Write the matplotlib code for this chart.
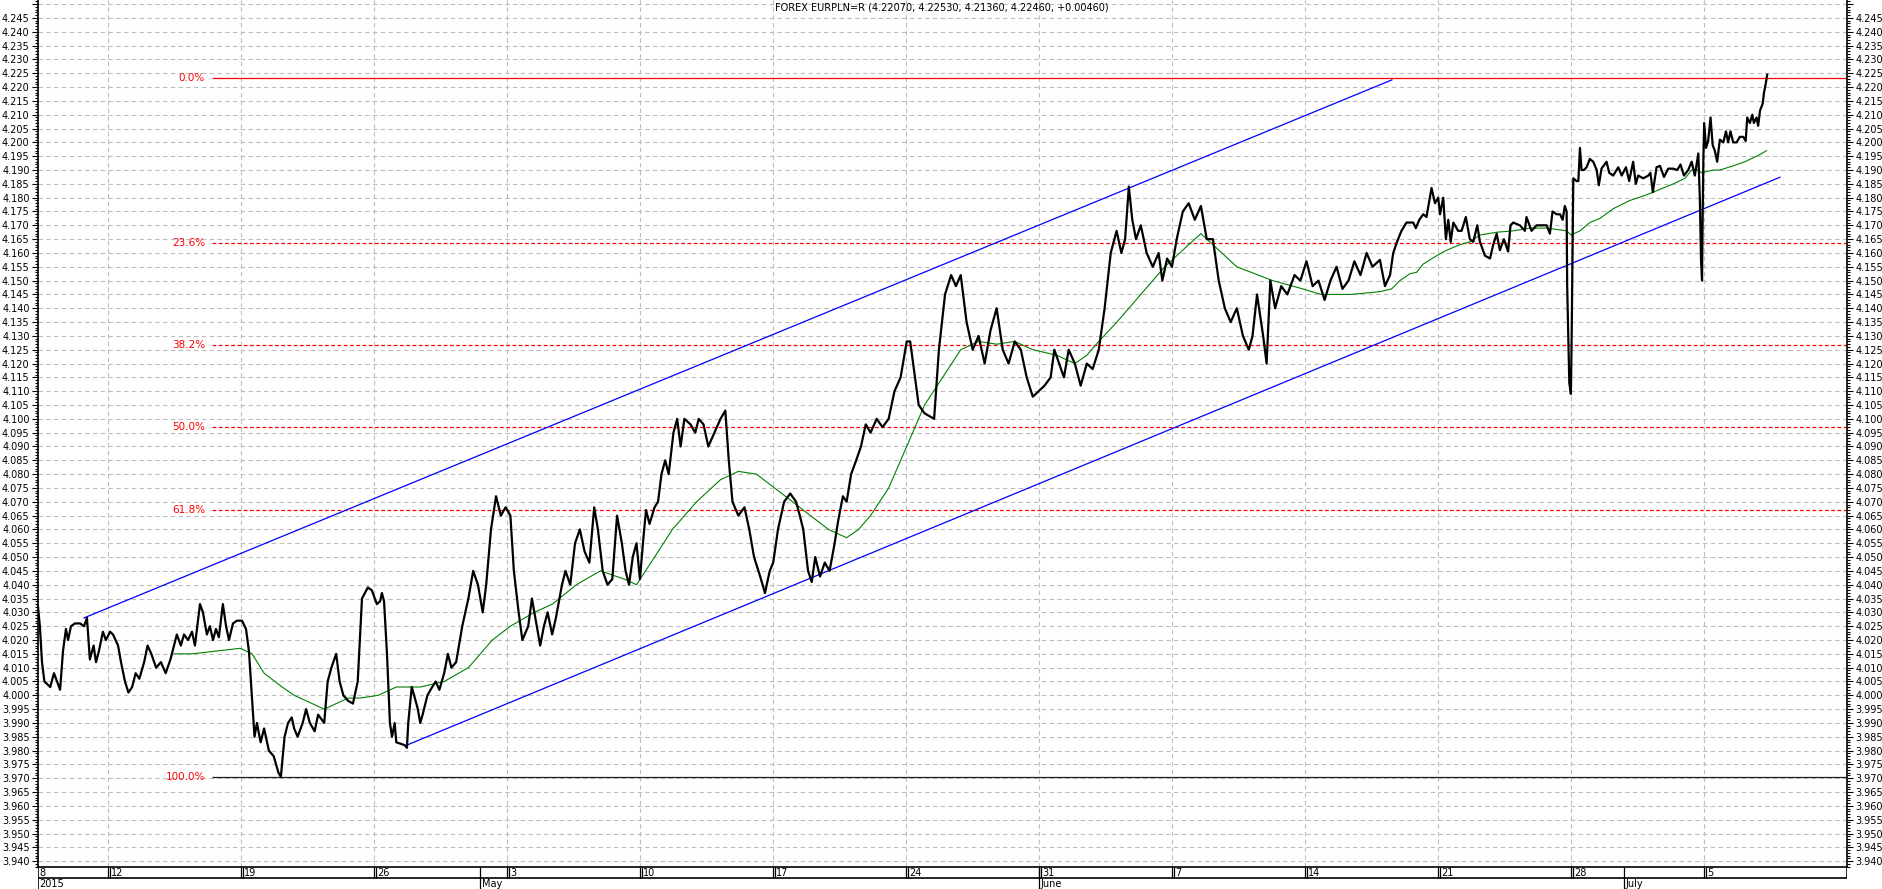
import matplotlib
matplotlib.use("Agg")
import matplotlib.pyplot as plt
import numpy as np
from matplotlib.ticker import MultipleLocator, FixedLocator, FixedFormatter

# time axis in trading days, 0 = Monday 13 Apr 2015
price_t = [-2.63, -2.56, -2.48, -2.39, -2.17, -2.03, -1.80, -1.69, -1.58, -1.50, -1.39, -1.24,
           -1.05, -0.90, -0.79, -0.68, -0.54, -0.45, -0.34, -0.19, -0.08, 0.08, 0.19, 0.38,
           0.49, 0.64, 0.77, 0.91, 1.04, 1.18, 1.36, 1.49, 1.63, 1.81, 1.99, 2.17, 2.35,
           2.59, 2.74, 2.86, 3.01, 3.16, 3.27, 3.46, 3.57, 3.72, 3.83, 3.95, 4.06, 4.17,
           4.32, 4.44, 4.55, 4.70, 4.85, 5.04, 5.19, 5.30, 5.51, 5.60, 5.74, 5.87, 6.05,
           6.23, 6.41, 6.50, 6.64, 6.77, 6.91, 7.00, 7.13, 7.32, 7.45, 7.59, 7.77, 7.90,
           8.13, 8.26, 8.40, 8.58, 8.71, 8.85, 9.03, 9.21, 9.39, 9.55, 9.77, 9.92, 10.11,
           10.23, 10.30, 10.38, 10.49, 10.60, 10.68, 10.78, 10.84, 11.15, 11.24, 11.29,
           11.42, 11.51, 11.65, 11.74, 11.83, 12.01, 12.19, 12.32, 12.46, 12.64, 12.78,
           12.91, 13.09, 13.32, 13.55, 13.73, 13.91, 14.09, 14.22, 14.40, 14.59, 14.77,
           14.95, 15.13, 15.26, 15.44, 15.58, 15.80, 15.94, 16.12, 16.25, 16.39, 16.53,
           16.70, 16.84, 17.07, 17.20, 17.38, 17.56, 17.74, 17.92, 18.10, 18.28, 18.42,
           18.60, 18.78, 18.96, 19.14, 19.32, 19.46, 19.59, 19.73, 19.87, 20.00, 20.14,
           20.23, 20.36, 20.55, 20.68, 20.81, 20.95, 21.08, 21.26, 21.40, 21.53, 21.67,
           21.90, 22.08, 22.21, 22.39, 22.57, 22.80, 23.03, 23.21, 23.34, 23.48, 23.70,
           23.93, 24.11, 24.29, 24.52, 24.70, 24.88, 25.01, 25.19, 25.42, 25.65, 25.87,
           26.01, 26.14, 26.32, 26.46, 26.59, 26.77, 26.95, 27.13, 27.32, 27.45, 27.63,
           27.77, 27.94, 28.13, 28.31, 28.49, 28.67, 28.90, 29.12, 29.35, 29.57, 29.80,
           30.03, 30.16, 30.34, 30.48, 30.70, 31.06, 31.24, 31.47, 31.70, 31.88, 32.06,
           32.28, 32.51, 32.73, 32.96, 33.18, 33.41, 33.64, 33.86, 34.09, 34.32, 34.54,
           34.77, 34.99, 35.21, 35.44, 35.58, 35.76, 35.94, 36.12, 36.35, 36.57, 36.80,
           37.02, 37.25, 37.47, 37.70, 37.92, 38.10, 38.24, 38.38, 38.51, 38.65, 38.83,
           39.05, 39.28, 39.50, 39.64, 39.82, 40.00, 40.18, 40.41, 40.63, 40.86, 41.09,
           41.31, 41.54, 41.76, 41.99, 42.21, 42.44, 42.67, 42.89, 43.03, 43.20, 43.43,
           43.56, 43.70, 43.88, 44.11, 44.34, 44.61, 44.83, 45.06, 45.29, 45.51, 45.74,
           45.96, 46.19, 46.41, 46.64, 46.86, 47.09, 47.32, 47.54, 47.82, 48.01, 48.20,
           48.32, 48.45, 48.63, 48.82, 49.07, 49.17, 49.30, 49.45, 49.57, 49.76, 49.89,
           50.01, 50.08, 50.20, 50.30, 50.39, 50.48, 50.58, 50.76, 50.89, 51.05, 51.20,
           51.33, 51.48, 51.58, 51.77, 51.96, 52.08, 52.21, 52.33, 52.48, 52.64, 52.73,
           52.83, 53.08, 53.27, 53.33, 53.52, 53.71, 53.96, 54.09, 54.21, 54.31, 54.46,
           54.59, 54.69, 54.77, 54.84, 54.86, 54.94, 55.00, 55.03, 55.09, 55.21, 55.28,
           55.34, 55.40, 55.49, 55.59, 55.71, 55.84, 55.97, 56.05, 56.15, 56.34, 56.44,
           56.59, 56.78, 56.91, 57.07, 57.19, 57.34, 57.44, 57.53, 57.72, 57.91, 57.99,
           58.08, 58.22, 58.35, 58.50, 58.66, 58.85, 59.00, 59.12, 59.25, 59.41, 59.54,
           59.66, 59.79, 59.85, 59.89, 59.93, 59.95, 59.98, 60.01, 60.08, 60.16, 60.25,
           60.33, 60.41, 60.50, 60.60, 60.73, 60.83, 60.91, 61.00, 61.10, 61.23, 61.35,
           61.48, 61.57, 61.63, 61.73, 61.82, 61.88, 61.98, 62.04, 62.11, 62.21, 62.26,
           62.33, 62.38]
price = [4.032, 4.025, 4.012, 4.005, 4.003, 4.008, 4.002, 4.016, 4.024, 4.020, 4.025, 4.026,
         4.026, 4.025, 4.028, 4.013, 4.018, 4.012, 4.016, 4.023, 4.020, 4.023, 4.022, 4.018,
         4.012, 4.005, 4.001, 4.003, 4.008, 4.006, 4.012, 4.018, 4.015, 4.010, 4.012, 4.008,
         4.013, 4.022, 4.018, 4.022, 4.020, 4.023, 4.018, 4.033, 4.030, 4.022, 4.025, 4.020,
         4.024, 4.021, 4.033, 4.025, 4.020, 4.026, 4.027, 4.027, 4.024, 4.016, 3.985, 3.990,
         3.983, 3.988, 3.980, 3.978, 3.972, 3.9705, 3.985, 3.990, 3.992, 3.988, 3.985, 3.990,
         3.995, 3.990, 3.987, 3.993, 3.990, 4.005, 4.010, 4.015, 4.005, 4.000, 3.998, 3.997,
         4.005, 4.035, 4.039, 4.038, 4.033, 4.034, 4.037, 4.034, 4.015, 3.990, 3.985, 3.990,
         3.983, 3.982, 3.981, 3.990, 4.003, 4.000, 3.995, 3.990, 3.993, 4.000, 4.003, 4.005,
         4.002, 4.008, 4.015, 4.010, 4.012, 4.025, 4.035, 4.045, 4.040, 4.030, 4.040, 4.060,
         4.072, 4.065, 4.068, 4.065, 4.045, 4.030, 4.020, 4.025, 4.035, 4.025, 4.018, 4.025,
         4.030, 4.022, 4.028, 4.040, 4.045, 4.040, 4.055, 4.060, 4.052, 4.048, 4.068, 4.060,
         4.045, 4.040, 4.042, 4.065, 4.055, 4.045, 4.040, 4.050, 4.055, 4.042, 4.058, 4.067,
         4.062, 4.068, 4.070, 4.080, 4.085, 4.080, 4.095, 4.100, 4.090, 4.100, 4.098, 4.095,
         4.100, 4.098, 4.090, 4.095, 4.100, 4.103, 4.085, 4.070, 4.065, 4.068, 4.060, 4.050,
         4.043, 4.037, 4.045, 4.048, 4.060, 4.070, 4.073, 4.070, 4.065, 4.060, 4.045, 4.041,
         4.050, 4.043, 4.048, 4.045, 4.055, 4.063, 4.072, 4.070, 4.080, 4.085, 4.090, 4.098,
         4.095, 4.100, 4.097, 4.100, 4.110, 4.115, 4.128, 4.128, 4.115, 4.105, 4.102, 4.100,
         4.125, 4.145, 4.152, 4.148, 4.152, 4.135, 4.125, 4.130, 4.120, 4.132, 4.140, 4.125,
         4.120, 4.128, 4.125, 4.115, 4.108, 4.110, 4.112, 4.115, 4.125, 4.120, 4.115, 4.125,
         4.120, 4.112, 4.120, 4.118, 4.125, 4.140, 4.160, 4.168, 4.160, 4.165, 4.184, 4.172,
         4.165, 4.170, 4.160, 4.155, 4.160, 4.150, 4.158, 4.155, 4.165, 4.175, 4.178, 4.172,
         4.177, 4.165, 4.165, 4.150, 4.140, 4.135, 4.140, 4.130, 4.125, 4.130, 4.145, 4.130,
         4.120, 4.150, 4.140, 4.148, 4.145, 4.152, 4.150, 4.157, 4.148, 4.150, 4.143, 4.150,
         4.155, 4.147, 4.150, 4.157, 4.152, 4.160, 4.155, 4.1575, 4.148, 4.152, 4.160,
         4.1637, 4.168, 4.171, 4.171, 4.169, 4.172, 4.174, 4.173, 4.1835, 4.178, 4.180,
         4.174, 4.180, 4.165, 4.172, 4.164, 4.171, 4.168, 4.168, 4.173, 4.165, 4.164, 4.170,
         4.164, 4.159, 4.158, 4.163, 4.167, 4.161, 4.165, 4.1605, 4.170, 4.171, 4.170,
         4.168, 4.173, 4.168, 4.170, 4.170, 4.170, 4.167, 4.175, 4.174, 4.174, 4.172, 4.177,
         4.175, 4.148, 4.113, 4.109, 4.131, 4.187, 4.186, 4.186, 4.198, 4.190, 4.190, 4.191,
         4.194, 4.193, 4.190, 4.1845, 4.1905, 4.193, 4.189, 4.188, 4.191, 4.188, 4.191,
         4.186, 4.193, 4.185, 4.188, 4.187, 4.188, 4.189, 4.182, 4.191, 4.1915, 4.1875,
         4.1905, 4.1905, 4.190, 4.192, 4.188, 4.190, 4.193, 4.188, 4.196, 4.179, 4.158,
         4.150, 4.170, 4.194, 4.207, 4.198, 4.2005, 4.209, 4.199, 4.197, 4.193, 4.201, 4.200,
         4.204, 4.200, 4.204, 4.200, 4.200, 4.202, 4.202, 4.2005, 4.209, 4.207, 4.210,
         4.207, 4.209, 4.206, 4.2115, 4.214, 4.218, 4.2215, 4.2245]

ma_t = [2.49, 3.16, 4.07, 4.97, 5.42, 5.87, 6.55, 7.00, 7.68, 8.13, 8.58, 9.03, 9.48, 10.16,
        10.84, 11.74, 12.64, 13.55, 14.45, 15.13, 16.03, 16.71, 17.61, 18.51, 19.42, 19.87,
        20.55, 21.22, 22.13, 23.03, 23.70, 24.38, 25.06, 25.74, 26.41, 27.09, 27.77, 28.22,
        28.67, 29.35, 30.03, 30.70, 31.38, 32.06, 32.73, 33.41, 34.09, 34.77, 35.67, 36.35,
        36.80, 37.25, 37.93, 38.83, 39.73, 40.63, 41.09, 41.54, 42.44, 43.79, 44.92, 45.60,
        46.73, 47.82, 48.26, 48.57, 48.95, 49.20, 49.45, 49.95, 50.33, 50.83, 51.20, 51.58,
        52.21, 52.83, 53.46, 54.09, 54.84, 55.00, 55.34, 55.71, 56.09, 56.59, 57.22, 57.84,
        58.47, 58.85, 59.29, 59.54, 59.79, 59.91, 60.35, 60.60, 61.10, 61.54, 61.98, 62.36]
ma = [4.015, 4.015, 4.016, 4.017, 4.015, 4.008, 4.003, 4.000, 3.997, 3.995, 3.997, 3.999,
      3.999, 4.000, 4.003, 4.003, 4.005, 4.010, 4.020, 4.025, 4.030, 4.033, 4.040, 4.045,
      4.042, 4.040, 4.050, 4.060, 4.070, 4.078, 4.081, 4.080, 4.075, 4.070, 4.065, 4.060,
      4.057, 4.060, 4.065, 4.075, 4.090, 4.105, 4.115, 4.125, 4.128, 4.127, 4.128, 4.125,
      4.123, 4.120, 4.123, 4.128, 4.135, 4.145, 4.155, 4.163, 4.167, 4.163, 4.155, 4.150,
      4.147, 4.145, 4.145, 4.146, 4.147, 4.150, 4.1525, 4.153, 4.156, 4.159, 4.161, 4.163,
      4.164, 4.1665, 4.1675, 4.168, 4.169, 4.169, 4.168, 4.1665, 4.168, 4.171, 4.1725,
      4.176, 4.179, 4.181, 4.1835, 4.185, 4.187, 4.190, 4.190, 4.189, 4.190, 4.190, 4.1915,
      4.193, 4.195, 4.197]

# trend channel (start, end)
upper_t = [-0.90, 48.27]
upper_v = [4.028, 4.2226]
lower_t = [11.24, 62.86]
lower_v = [3.982, 4.1874]

fib_labels = ["0.0%", "23.6%", "38.2%", "50.0%", "61.8%", "100.0%"]
fib_levels = [4.2233, 4.1636, 4.1267, 4.0969, 4.0671, 3.9705]
fib_start = 3.91

week_ticks = [0, 5, 10, 15, 20, 25, 30, 35, 40, 45, 50, 55, 60]
week_labels = ["12", "19", "26", "3", "10", "17", "24", "31", "7", "14", "21", "28", "5"]
month_pos = [-2.63, 14, 35, 57]
month_labels = ["2015", "May", "June", "July"]

x_min, x_max = -2.63, 65.38
y_min, y_max = 3.9379, 4.2515

W, H = 1883, 889
fig = plt.figure(figsize=(W / 100, H / 100), dpi=100)
ax = fig.add_axes([38 / W, 22 / H, (1847 - 38) / W, 867 / H])
ax.set_xlim(x_min, x_max)
ax.set_ylim(y_min, y_max)

yt = np.round(np.arange(3.940, 4.2501, 0.005), 3)
ylab = ["%.3f" % v for v in yt[:-1]] + [""]
ax.yaxis.set_major_locator(FixedLocator(yt))
ax.yaxis.set_major_formatter(FixedFormatter(ylab))
ax.yaxis.set_minor_locator(MultipleLocator(0.001))
ax.tick_params(axis="y", which="both", left=True, right=True, labelleft=True, labelright=True,
               labelsize=7, pad=2, width=0.8)
ax.tick_params(axis="y", which="major", length=4)
ax.tick_params(axis="y", which="minor", length=2)
ax.set_xticks(week_ticks)
ax.tick_params(axis="x", length=0, labelbottom=False)
ax.grid(True, color="#bdbdbd", linestyle=(0, (4, 3)), linewidth=0.8)
ax.set_axisbelow(True)
ax.spines["top"].set_visible(False)
for s in ["left", "right", "bottom"]:
    ax.spines[s].set_linewidth(1.2)

# fibonacci retracement
for lab, lev in zip(fib_labels, fib_levels):
    if lab == "0.0%":
        ax.hlines(lev, fib_start, x_max, color="#ff0000", lw=0.9)
    elif lab == "100.0%":
        ax.hlines(lev, fib_start, x_max, color="#202020", lw=0.9)
    else:
        ax.hlines(lev, fib_start, x_max, color="#ff0000", lw=0.9, linestyles=(0, (3, 2)))
    ax.text(fib_start - 0.26, lev, lab, color="#ff0000", fontsize=7.5, ha="right", va="center")

ax.plot(upper_t, upper_v, color="#0000ff", lw=0.9)
ax.plot(lower_t, lower_v, color="#0000ff", lw=0.9)
ax.plot(ma_t, ma, color="#008000", lw=0.8)
ax.plot(price_t, price, color="black", lw=1.6)

fig.text(0.5, 1 - 7 / H, "FOREX EURPLN=R (4.22070, 4.22530, 4.21360, 4.22460, +0.00460)",
         ha="center", va="center", fontsize=7)

# date strip
ax2 = fig.add_axes([38 / W, 0, (1847 - 38) / W, 22 / H])
ax2.set_xlim(x_min, x_max)
ax2.set_ylim(0, 22)
ax2.axis("off")
ax2.hlines(11, x_min, x_max, color="black", lw=1.2)
ax2.vlines(x_min, 0, 22, color="black", lw=1.2)
ax2.vlines(x_max, 11, 22, color="black", lw=1.2)
ax2.text(x_min + 0.05, 16.5, "8", fontsize=7, ha="left", va="center")
for t, lab in zip(week_ticks, week_labels):
    ax2.vlines([t, t + 0.075], 11, 22, color="black", lw=0.9)
    ax2.text(t + 0.12, 16.5, lab, fontsize=7, ha="left", va="center")
for t, lab in zip(month_pos, month_labels):
    if t > x_min:
        ax2.vlines(t, 0, 22, color="black", lw=0.9)
    ax2.text(t + 0.05, 5, lab, fontsize=7, ha="left", va="center")

fig.savefig("out.png", dpi=100)
